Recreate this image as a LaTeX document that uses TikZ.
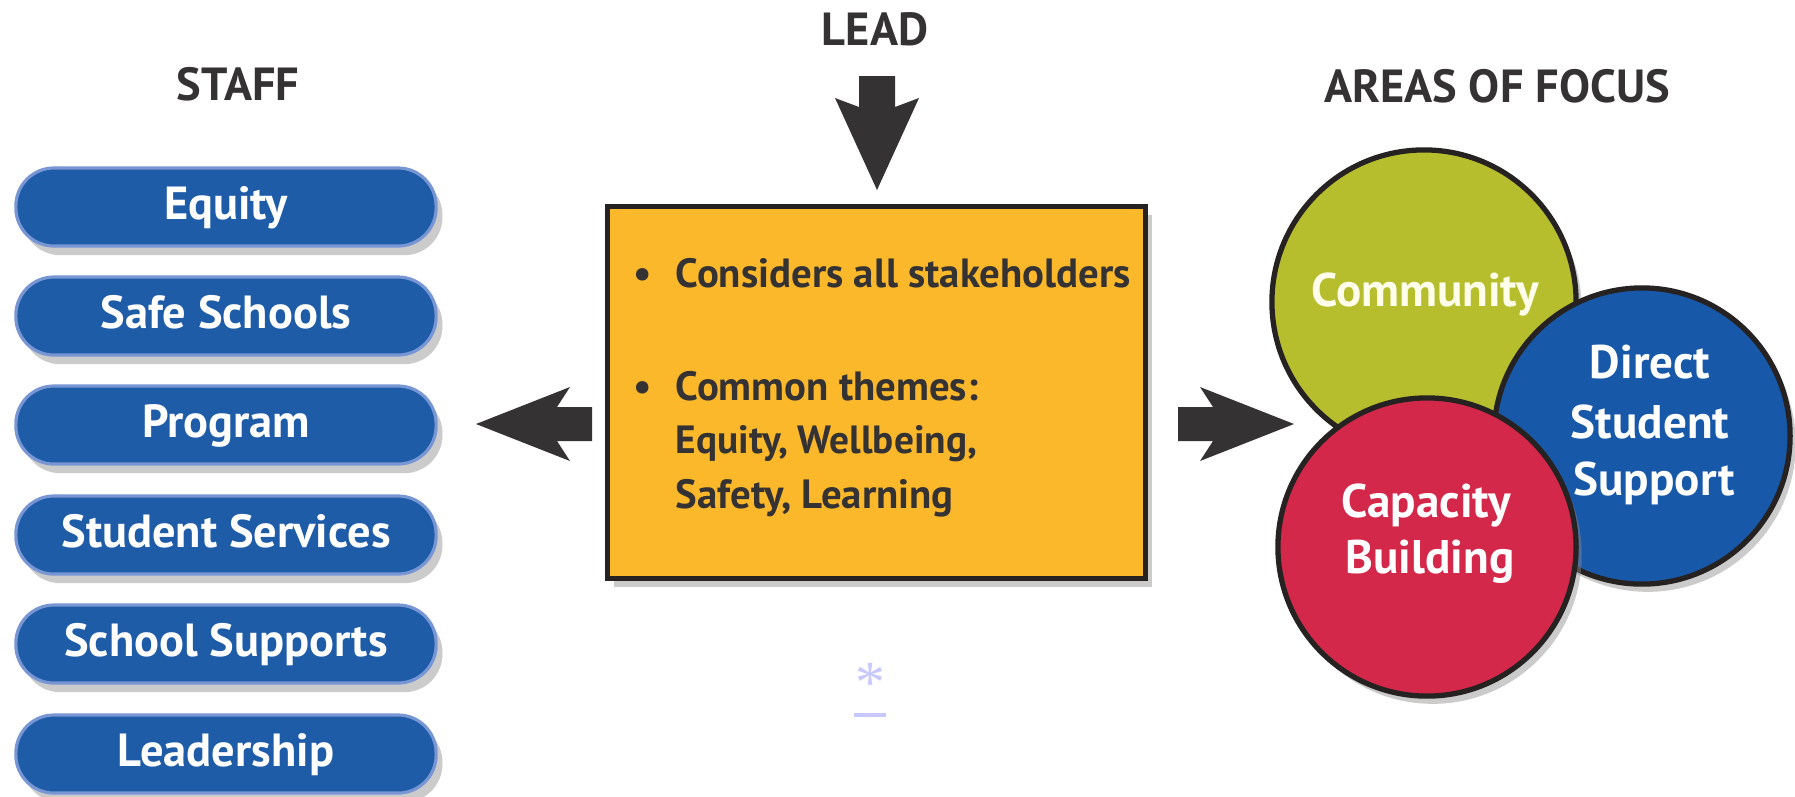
\documentclass[tikz,border=0pt]{standalone}
\usepackage{fontspec}
\setmainfont{PT Sans}
\newfontfamily\astfont{Liberation Serif}
\usetikzlibrary{shadows}
\definecolor{pillblue}{RGB}{30,92,168}
\definecolor{pillrim}{RGB}{120,150,212}
\definecolor{boxorange}{RGB}{251,184,42}
\definecolor{darkink}{RGB}{52,50,50}
\definecolor{outline}{RGB}{38,34,34}
\definecolor{comgreen}{RGB}{183,190,46}
\definecolor{dssblue}{RGB}{24,88,168}
\definecolor{capred}{RGB}{212,40,74}
\definecolor{lavender}{RGB}{200,200,252}
\tikzset{
  pill/.style={rounded corners=0.38cm, minimum width=4.2cm, minimum height=0.78cm,
    fill=pillblue, draw=pillrim, line width=0.9pt, text=white,
    font=\fontsize{13.2}{15}\selectfont\bfseries, text height=0.7em, text depth=0pt,
    drop shadow={shadow xshift=1.8pt, shadow yshift=-2.6pt, fill=black!45, opacity=0.45}},
  heading/.style={anchor=base, inner sep=0pt, text=darkink, font=\fontsize{13.2}{15}\selectfont\bfseries},
  bubble/.style={circle, draw=outline, line width=1.5pt,
    drop shadow={shadow xshift=1.6pt, shadow yshift=-2.2pt, fill=black!45, opacity=0.45}},
  bubtext/.style={anchor=base, inner sep=0pt, text=white, font=\fontsize{13.4}{15}\selectfont\bfseries},
  boxtext/.style={anchor=base west, inner sep=0pt, text=darkink, font=\fontsize{11.6}{14}\selectfont\bfseries},
  blockarrow/.style={fill=darkink},
}
\begin{document}
\begin{tikzpicture}[x=0.01cm, y=-0.01cm]
\useasboundingbox (0,0) rectangle (1795,796);
\fill[white] (0,0) rectangle (1795,796);

% headings
\node[heading] (staff) at (238,100) {STAFF};
\node[heading] (lead) at (875,45) {LEAD};
\node[heading] (areas) at (1497,102) {AREAS OF FOCUS};

% staff pills
\node[pill] (p1) at (226,207) {Equity};
\node[pill] (p2) at (226,316) {Safe Schools};
\node[pill] (p3) at (226,425) {Program};
\node[pill] (p4) at (226,535) {Student Services};
\node[pill] (p5) at (226,644) {School Supports};
\node[pill] (p6) at (226,754) {Leadership};

% central box
\node[draw=outline, line width=1.4pt, fill=boxorange, minimum width=5.37cm, minimum height=3.71cm,
  drop shadow={shadow xshift=1.8pt, shadow yshift=-2.4pt, fill=black!45, opacity=0.45}]
  (box) at (876.5,392.5) {};
\node[boxtext] (b1) at (633,287) {•};
\node[boxtext] (t1) at (675,287) {Considers all stakeholders};
\node[boxtext] (b2) at (633,400) {•};
\node[boxtext] (t2) at (675,400) {Common themes:};
\node[boxtext, font=\fontsize{11.2}{13}\selectfont\bfseries] (t3) at (675,453) {Equity, Wellbeing,};
\node[boxtext] (t4) at (675,508) {Safety, Learning};

% arrows
\coordinate (dtip) at (877,190);
\coordinate (ltip) at (476,424);
\coordinate (rtip) at (1294,424);
\fill[blockarrow] (dtip) -- +(-42,-92) -- +(-18,-83) -- +(-18,-114) -- +(18,-114)
  -- +(18,-83) -- +(42,-92) -- cycle;
\fill[blockarrow] (ltip) -- +(94,-37) -- +(81,-17) -- +(116,-17) -- +(116,17)
  -- +(81,17) -- +(94,37) -- cycle;
\fill[blockarrow] (rtip) -- +(-94,-37) -- +(-81,-17) -- +(-116,-17) -- +(-116,17)
  -- +(-81,17) -- +(-94,37) -- cycle;

% focus circles
\node[bubble, fill=comgreen, minimum size=3.04cm] (com) at (1424,302) {};
\node[bubble, fill=dssblue, minimum size=2.96cm] (dss) at (1642,436) {};
\node[bubble, fill=capred, minimum size=2.98cm] (cap) at (1427,547) {};
\node[bubtext, text=white!92!yellow] (comt) at (1425,306) {Community};
\node[bubtext] (dss1) at (1650,378) {Direct};
\node[bubtext] (dss2) at (1650,438) {Student};
\node[bubtext] (dss3) at (1654,495) {Support};
\node[bubtext] (cap1) at (1426,517) {Capacity};
\node[bubtext] (cap2) at (1430,573) {Building};

% asterisk link
\node[anchor=base, inner sep=0pt, text=lavender, font=\astfont\fontsize{17}{18}\selectfont] (ast) at (870,702) {*};
\draw[lavender, line width=1.2pt] (854,715) -- (886,715);
\end{tikzpicture}
\end{document}
